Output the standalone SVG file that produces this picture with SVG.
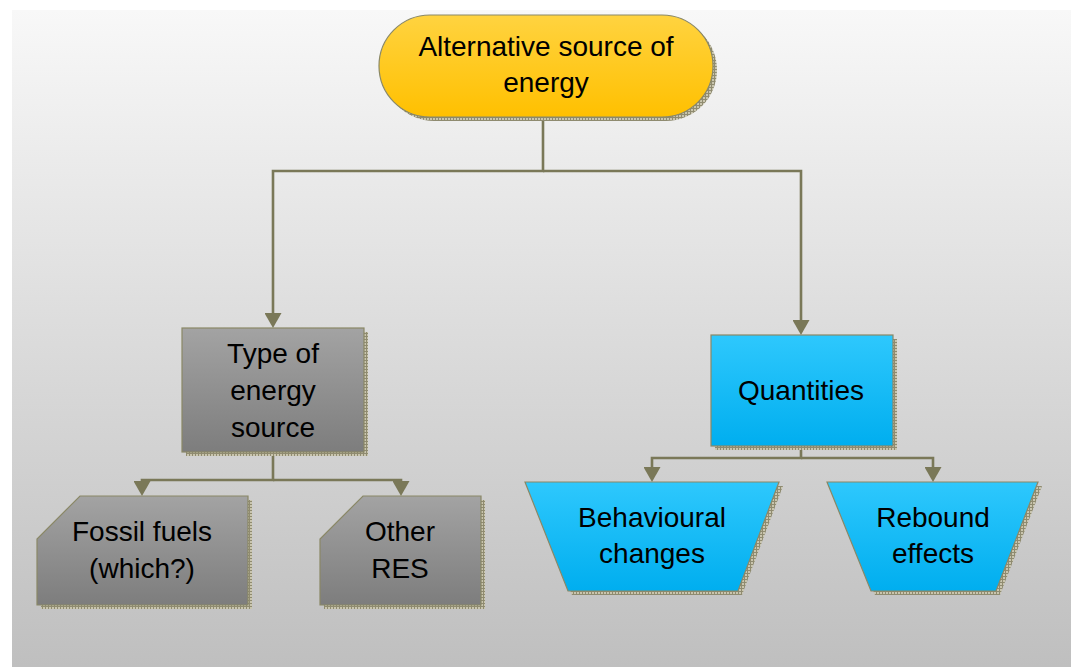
<svg xmlns="http://www.w3.org/2000/svg" width="1071" height="667" viewBox="0 0 1071 667">
  <defs>
    <linearGradient id="bg" x1="0" y1="0" x2="0" y2="1">
      <stop offset="0" stop-color="#f8f8f8"/>
      <stop offset="1" stop-color="#bfbfbf"/>
    </linearGradient>
    <linearGradient id="gold" x1="0" y1="0" x2="0" y2="1">
      <stop offset="0" stop-color="#ffd340"/>
      <stop offset="1" stop-color="#ffc000"/>
    </linearGradient>
    <linearGradient id="grey" x1="0" y1="0" x2="0" y2="1">
      <stop offset="0" stop-color="#a3a3a3"/>
      <stop offset="1" stop-color="#7d7d7d"/>
    </linearGradient>
    <linearGradient id="blue" x1="0" y1="0" x2="0" y2="1">
      <stop offset="0" stop-color="#2ec8fd"/>
      <stop offset="1" stop-color="#00aeef"/>
    </linearGradient>
    <!-- cross-hatched drop shadow -->
    <pattern id="hatch" width="3" height="3" patternUnits="userSpaceOnUse">
      <rect width="3" height="3" fill="#c9c5ae"/>
      <path d="M0,0.5H3M0.5,0V3" stroke="#8f8b70" stroke-width="1"/>
    </pattern>
    <marker id="arrow" markerUnits="userSpaceOnUse" markerWidth="16" markerHeight="17" refX="1" refY="8.5" orient="auto">
      <path d="M0,0 L15,8.5 L0,17 Z" fill="#7a7858"/>
    </marker>
  </defs>
  <style>
    .shadow { fill: url(#hatch); }
    .node { stroke: #8a8866; stroke-width: 1.2; }
    .label { font-family: "Liberation Sans", Arial, sans-serif; font-size: 28px; fill: #000; text-anchor: middle; }
    .link { fill: none; stroke: #7a7858; stroke-width: 2.6; }
  </style>

  <rect x="12" y="10" width="1059" height="657" fill="url(#bg)"/>

  <g id="connectors">
    <path class="link" d="M543,117 V171 H273 V314" marker-end="url(#arrow)"/>
    <path class="link" d="M543,171 H801 V321" marker-end="url(#arrow)"/>
    <path class="link" d="M273,452 V480 H142 V482" marker-end="url(#arrow)"/>
    <path class="link" d="M273,480 H401 V482" marker-end="url(#arrow)"/>
    <path class="link" d="M801,446 V458 H652 V468" marker-end="url(#arrow)"/>
    <path class="link" d="M801,458 H933 V468" marker-end="url(#arrow)"/>
  </g>

  <g id="alternative-source">
    <rect class="shadow" x="383" y="19" width="334" height="102" rx="51"/>
    <rect class="node" x="379" y="15" width="334" height="102" rx="51" fill="url(#gold)"/>
    <text class="label" x="546" y="56">Alternative source of</text>
    <text class="label" x="546" y="92">energy</text>
  </g>

  <g id="type-of-source">
    <rect class="shadow" x="186" y="332" width="182" height="124"/>
    <rect class="node" x="182" y="328" width="182" height="124" fill="url(#grey)"/>
    <text class="label" x="273" y="363">Type of</text>
    <text class="label" x="273" y="400">energy</text>
    <text class="label" x="273" y="437">source</text>
  </g>

  <g id="fossil-fuels">
    <path class="shadow" d="M84,500 H252 V609 H41 V543 Z"/>
    <path class="node" d="M80,496 H248 V605 H37 V539 Z" fill="url(#grey)"/>
    <text class="label" x="142" y="541">Fossil fuels</text>
    <text class="label" x="142" y="578">(which?)</text>
  </g>

  <g id="other-res">
    <path class="shadow" d="M367,500 H485 V609 H324 V543 Z"/>
    <path class="node" d="M363,496 H481 V605 H320 V539 Z" fill="url(#grey)"/>
    <text class="label" x="400" y="541">Other</text>
    <text class="label" x="400" y="578">RES</text>
  </g>

  <g id="quantities">
    <rect class="shadow" x="715" y="339" width="182" height="111"/>
    <rect class="node" x="711" y="335" width="182" height="111" fill="url(#blue)"/>
    <text class="label" x="801" y="400">Quantities</text>
  </g>

  <g id="behavioural-changes">
    <path class="shadow" d="M529,486 H783 L742,595 H572 Z"/>
    <path class="node" d="M525,482 H779 L738,591 H568 Z" fill="url(#blue)"/>
    <text class="label" x="652" y="527">Behavioural</text>
    <text class="label" x="652" y="563">changes</text>
  </g>

  <g id="rebound-effects">
    <path class="shadow" d="M831,486 H1042 L1000,595 H875 Z"/>
    <path class="node" d="M827,482 H1038 L996,591 H871 Z" fill="url(#blue)"/>
    <text class="label" x="933" y="527">Rebound</text>
    <text class="label" x="933" y="563">effects</text>
  </g>
</svg>
